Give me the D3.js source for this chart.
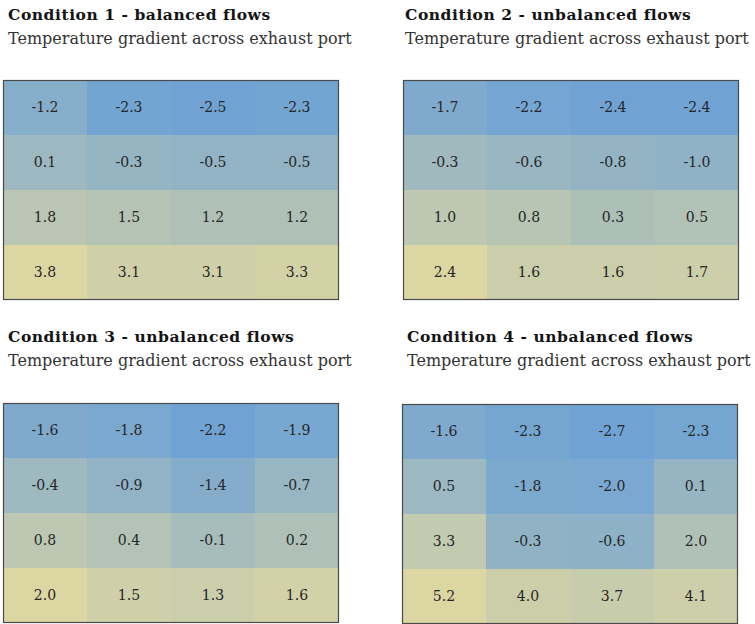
<!DOCTYPE html>
<html>
<head>
<meta charset="utf-8">
<script src="https://cdn.jsdelivr.net/npm/d3@7"></script>
<style>
  html, body { margin: 0; padding: 0; background: #ffffff; }
  svg { display: block; }
</style>
</head>
<body>
<svg id="chart" width="755" height="624"></svg>
<script>
// Temperature gradient readings (4 x 4 grid) for each test condition
const titles = [
  "Condition 1 - balanced flows",
  "Condition 2 - unbalanced flows",
  "Condition 3 - unbalanced flows",
  "Condition 4 - unbalanced flows"
];
const subtitle = "Temperature gradient across exhaust port";
const rows = ["r1", "r2", "r3", "r4"];
const cols = ["c1", "c2", "c3", "c4"];

const cond1 = [
  [-1.2, -2.3, -2.5, -2.3],
  [0.1, -0.3, -0.5, -0.5],
  [1.8, 1.5, 1.2, 1.2],
  [3.8, 3.1, 3.1, 3.3]
];
const cond2 = [
  [-1.7, -2.2, -2.4, -2.4],
  [-0.3, -0.6, -0.8, -1.0],
  [1.0, 0.8, 0.3, 0.5],
  [2.4, 1.6, 1.6, 1.7]
];
const cond3 = [
  [-1.6, -1.8, -2.2, -1.9],
  [-0.4, -0.9, -1.4, -0.7],
  [0.8, 0.4, -0.1, 0.2],
  [2.0, 1.5, 1.3, 1.6]
];
const cond4 = [
  [-1.6, -2.3, -2.7, -2.3],
  [0.5, -1.8, -2.0, 0.1],
  [3.3, -0.3, -0.6, 2.0],
  [5.2, 4.0, 3.7, 4.1]
];
const conditions = [cond1, cond2, cond3, cond4];

// Panel placement: two columns, two rows
const panelLayout = [
  { tx: 8,   gx: 3,   gy: 80 },
  { tx: 405, gx: 403, gy: 80 },
  { tx: 8,   gx: 3,   gy: 403 },
  { tx: 407, gx: 402, gy: 404 }
];
const gridW = 336, gridH = 220;

const svg = d3.select("#chart");
const fmt = v => (v < 0 ? "-" : "") + d3.format(".1f")(Math.abs(v));

conditions.forEach((grid, i) => {
  const lay = panelLayout[i];
  const topY = i < 2 ? 0 : 322;
  const g = svg.append("g");

  g.append("text")
    .attr("x", lay.tx).attr("y", topY + 20)
    .attr("font-family", "'DejaVu Serif', serif")
    .attr("font-weight", "bold")
    .attr("font-size", 15.5)
    .attr("letter-spacing", 0.55)
    .attr("fill", "#141414")
    .text(titles[i]);

  g.append("text")
    .attr("x", lay.tx).attr("y", topY + 44)
    .attr("font-family", "'DejaVu Serif', serif")
    .attr("font-size", 16)
    .attr("fill", "#333")
    .text(subtitle);

  const x = d3.scaleBand().domain(cols).range([lay.gx, lay.gx + gridW]);
  const y = d3.scaleBand().domain(rows).range([lay.gy, lay.gy + gridH]);

  const cells = [];
  grid.forEach((row, ri) => row.forEach((v, ci) => cells.push({ r: rows[ri], c: cols[ci], v })));

  // each panel is coloured over its own min..max range
  const ext = d3.extent(cells, d => d.v);
  const color = d3.scaleLinear()
    .domain(ext)
    .range(["#70a3d4", "#dcd6a3"])
    .interpolate(d3.interpolateRgb);

  g.selectAll("rect.cell")
    .data(cells)
    .join("rect")
    .attr("class", "cell")
    .attr("x", d => x(d.c))
    .attr("y", d => y(d.r))
    .attr("width", x.bandwidth())
    .attr("height", y.bandwidth())
    .attr("fill", d => color(d.v));

  g.selectAll("text.val")
    .data(cells)
    .join("text")
    .attr("class", "val")
    .attr("x", d => x(d.c) + x.bandwidth() / 2)
    .attr("y", d => y(d.r) + y.bandwidth() / 2)
    .attr("dy", "0.35em")
    .attr("text-anchor", "middle")
    .attr("font-family", "'DejaVu Serif', serif")
    .attr("font-size", 14)
    .attr("fill", "#262626")
    .text(d => fmt(d.v));

  g.append("rect")
    .attr("x", lay.gx + 0.5).attr("y", lay.gy + 0.5)
    .attr("width", gridW - 1).attr("height", gridH - 1)
    .attr("fill", "none")
    .attr("stroke", "#4a4a4a")
    .attr("stroke-width", 1.2);
});
</script>
</body>
</html>
